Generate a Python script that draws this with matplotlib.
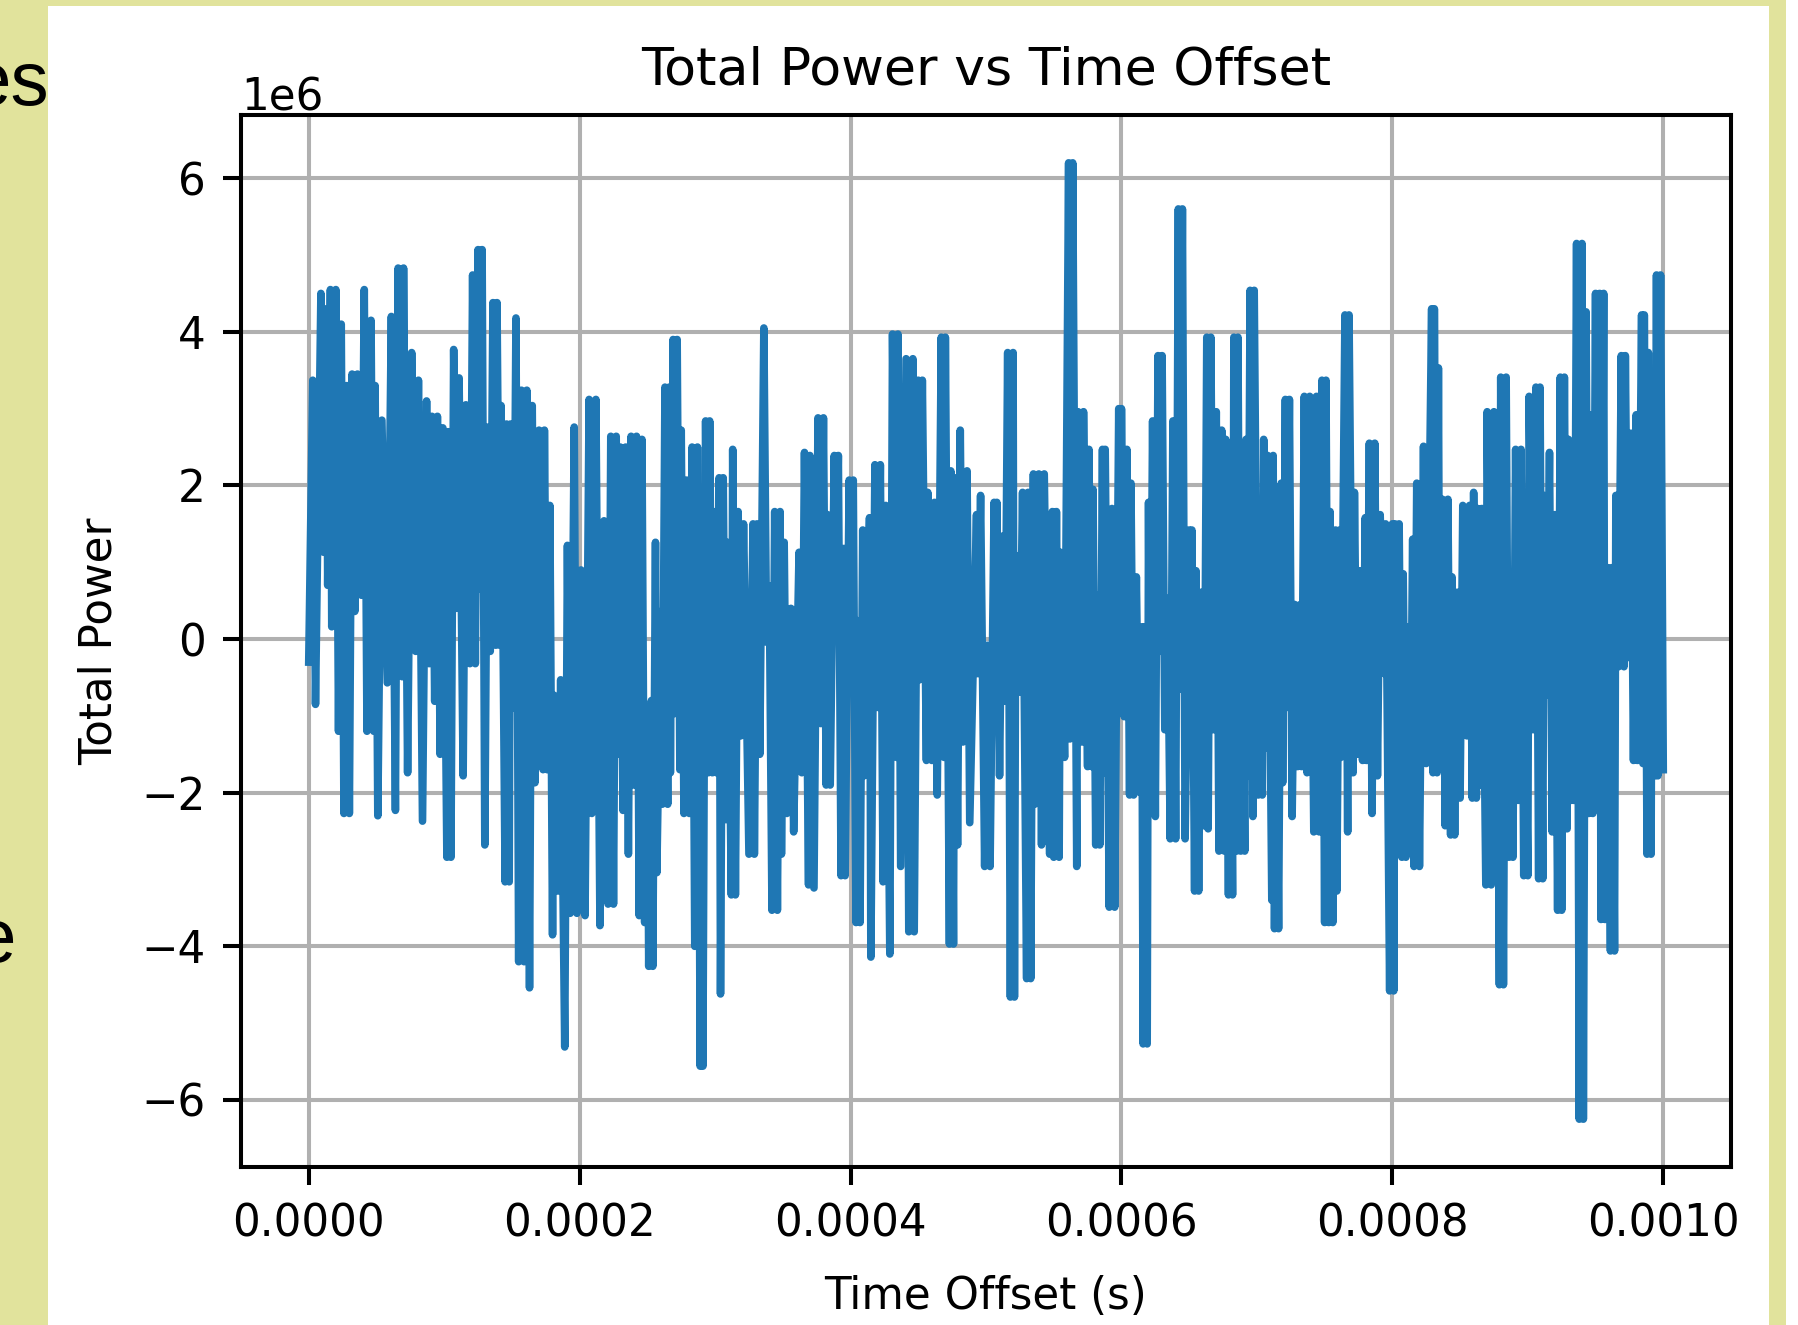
import matplotlib
matplotlib.use("Agg")
import matplotlib.pyplot as plt
from matplotlib.patches import Rectangle
import numpy as np

# time offset in microseconds, total power in units of 1e6
time_us = [
    0, 3, 5, 9, 11, 13, 14, 16, 17, 20, 22, 24, 26, 28, 30, 32, 34, 36, 39, 41,
    43, 46, 48, 49, 51, 54, 58, 61, 64, 66, 69, 70, 73, 76, 79, 81, 84, 87, 89, 91,
    93, 95, 97, 99, 102, 103, 105, 107, 109, 111, 114, 116, 119,
    121, 123, 125, 126, 128, 130, 132, 134, 136, 138, 139, 141, 142, 145, 146, 148, 149, 151,
    153, 155, 157, 159, 161, 163, 165, 167, 170, 173, 174, 176, 178, 180, 181, 184, 186, 189,
    191, 193, 196, 198, 201, 204, 207, 209, 212, 215, 218, 221, 223, 225, 227, 228, 230, 232,
    234, 236, 238, 240, 242, 244,
    246, 248, 250, 251, 253, 254, 256, 257, 260, 261, 263, 265, 266, 267, 269, 270, 272, 274,
    275, 277, 279, 281, 283, 285, 287, 289, 290, 291, 293, 295, 296, 298, 299, 301, 303, 304,
    306, 308, 309, 312, 313, 315, 317, 319, 321, 325, 328, 329, 331, 333, 336, 338, 340, 342,
    344, 346, 348, 349, 351, 353, 356, 358, 362, 364, 366, 369,
    370, 373, 376, 378, 380, 382, 383, 385, 388, 389, 391, 393, 395, 396, 399, 400, 402, 404,
    405, 407, 409, 410, 414, 415, 418, 420, 422, 424, 426, 429, 431, 434, 435, 437, 441, 443,
    446, 447, 450, 451, 453, 456, 457, 460, 462, 464, 467, 469, 470, 473, 474, 476, 477, 479,
    481, 483, 486, 488,
    493, 494, 496, 499, 501, 503, 506, 507, 508, 510, 512, 514, 516, 518, 520, 521, 522, 525,
    527, 530, 531, 533, 535, 536, 539, 541, 543, 547, 549, 550, 552, 554, 555, 558, 561, 562,
    564, 567, 568, 571, 572, 575, 576, 578, 579, 581, 582, 584, 586, 587, 588, 591, 593, 595,
    598, 599, 600, 602, 604, 606, 607, 609, 611, 613, 615, 616, 617, 619, 620, 621,
    623, 625, 627, 628, 630, 632, 634, 636, 638, 640, 642, 643, 645, 647, 650, 651, 652, 654,
    655, 657, 659, 661, 663, 664, 666, 668, 670, 672, 674, 676, 677, 679, 680, 682, 683, 685,
    686, 688, 689, 691, 692, 693, 695, 697, 698, 701, 702, 704, 705, 707, 708, 711, 712, 713,
    714, 716, 718, 719, 721, 722, 724, 726, 728, 730, 732, 733, 735, 737, 739, 742, 744,
    746, 748, 750, 751, 753, 754, 756, 758, 759, 761, 762, 765, 767, 768, 771, 772, 774, 776,
    778, 780, 781, 783, 785, 787, 789, 791, 794, 795, 798, 800, 801, 802, 803, 805, 807, 808,
    810, 812, 813, 815, 816, 818, 820, 823, 825, 829, 830, 831, 833, 834, 835, 837, 839, 841,
    843, 844, 846, 848, 850, 852, 855, 857, 859, 860, 862, 863, 865, 866, 869, 870,
    873, 875, 876, 877, 879, 880, 882, 884, 886, 888, 889, 891, 893, 895, 897, 898, 900, 901,
    904, 906, 908, 909, 911, 912, 914, 916, 918, 920, 922, 924, 925, 927, 929, 930, 932, 933,
    934, 936, 938, 940, 941, 943, 945, 947, 948, 950, 951, 953, 954, 956, 957, 959, 961, 962,
    964, 965, 967, 969, 971, 972, 974, 976, 978, 980, 981, 984, 985, 986, 988, 989, 991, 992,
    994, 995, 996, 998, 1000,
]

power_1e6 = [
    -0.3, 3.37, -0.85, 4.5, 1.13, 4.3, 0.7, 4.55, 0.16, 4.55, -1.2, 4.1, -2.27, 3.3, -2.27, 3.45, 0.36, 3.45, 0.57, 4.55,
    -1.2, 4.15, -1.2, 3.3, -2.3, 2.85, -0.57, 4.2, -2.23, 4.83, -0.49, 4.83, -1.74, 3.73, -0.16, 3.37, -2.37, 3.1, -0.32, 2.9,
    -0.81, 2.9, -1.5, 2.75, -2.84, 2.7, -2.84, 3.77, 0.4, 3.4, -1.78, 3.05, -0.32,
    4.74, -0.32, 5.07, 0.65, 5.07, -2.68, 2.76, -0.16, 4.38, -0.08, 4.38, -0.08, 3.04, -3.16, 2.8, -3.16, 2.8, -0.9,
    4.18, -4.2, 3.24, -4.2, 3.24, -4.54, 3.04, -1.87, 2.72, -1.7, 2.72, -1.7, 1.74, -3.85, -0.73, -3.28, -0.53, -5.31,
    1.22, -3.57, 2.76, -3.57, 0.9, -3.6, 3.12, -2.27, 3.12, -3.73, 1.54, -3.45, 2.64, -3.45, 2.64, -1.5, 2.5, -2.23,
    2.5, -2.8, 2.64, -1.9, 2.64, -3.6,
    2.6, -3.69, -1.0, -4.26, -0.8, -4.26, 1.26, -3.04, 0.36, -2.15, 3.28, -2.15, 3.28, -1.74, 3.9, -0.97, 3.9, -1.7,
    2.72, -2.27, 2.07, -2.27, 2.5, -4.0, 2.5, -5.56, -0.16, -5.56, 2.84, -1.74, 2.84, -1.74, 1.66, -1.74, 2.1, -4.62,
    2.1, -2.35, 1.26, -3.33, 2.47, -3.33, 1.66, -1.26, 1.5, -2.8, 1.5, -2.8, 1.5, -1.5, 4.05, -0.04, 0.69, -3.53,
    1.66, -3.53, 1.66, -2.8, 1.26, -2.27, 0.4, -2.51, 1.13, -1.74, 2.43, -3.2,
    2.39, -3.24, 2.88, -1.1, 2.88, -1.9, 1.62, -1.9, 2.39, 0.28, 2.39, -3.08, 1.18, -3.08, 2.07, -0.16, 2.07, -3.69,
    0.24, -3.69, 1.42, -1.78, 1.58, -4.14, 2.27, -0.89, 2.27, -3.16, 1.74, -4.1, 3.97, -1.54, 3.97, -2.96, 3.65, -3.81,
    3.65, -3.81, 3.37, -0.53, 3.37, -1.58, 1.91, -1.58, 1.78, -2.03, 3.93, -1.54, 3.93, -3.97, 2.19, -3.97, 2.1, -2.68,
    2.72, -1.34, 2.19, -2.39,
    1.62, -0.45, 1.87, -2.96, -0.08, -2.96, 1.78, -0.28, 1.78, -1.78, 1.34, -0.81, 3.73, -4.66, 3.73, -4.66, 1.09, -0.69,
    1.91, -4.42, 1.91, -4.42, 2.15, -2.15, 2.15, -2.68, 2.15, -2.8, 1.66, -2.84, 1.66, -2.84, 1.13, -1.54, 6.2, -1.3,
    6.2, -2.96, 2.96, -1.34, 2.96, -1.66, 2.47, -1.66, 1.95, -2.68, 0.57, -2.68, 2.47, -1.74, 2.47, -3.49, 1.7, -3.49,
    3.0, -0.73, 3.0, -1.01, 2.47, -2.03, 2.03, -2.03, 0.81, -1.99, 0.16, -5.27, 0.16, -5.27, 1.78, -2.1,
    2.84, -2.31, 3.69, -0.16, 3.69, -1.18, 0.53, -2.6, 2.84, -2.6, 5.6, -0.65, 5.6, -2.6, 1.42, -0.85, 1.42, -3.28,
    0.89, -3.28, 0.61, -2.43, 3.93, -2.47, 3.93, -1.18, 2.96, -2.76, 2.72, -2.76, 2.6, -3.33, 1.13, -3.33, 3.93, -2.76,
    3.93, -2.76, 1.82, -2.76, 2.6, -1.78, 4.54, -2.31, 4.54, -2.03, 0.73, -2.03, 2.6, -1.42, 2.39, -3.4, 2.39, -3.77,
    0.28, -3.77, 2.03, -1.87, 3.12, -0.89, 3.12, -2.31, 0.45, -1.66, 0.45, -1.66, 3.16, -1.74, 3.16, -2.51, 3.16,
    -2.51, 3.37, -3.69, 3.37, -3.69, 1.66, -3.69, 1.42, -3.28, 1.42, -1.54, 4.22, -2.51, 4.22, -1.74, 1.91, -1.5, 0.89,
    -1.58, 1.58, -1.58, 2.55, -2.27, 2.55, -1.78, 1.62, -0.45, 1.5, -4.58, 1.5, -4.58, 1.5, -1.54, 1.5, -2.84, 0.85,
    -2.84, 0.16, -2.39, 1.3, -2.96, 2.03, -2.96, 2.51, -1.62, 4.3, -1.74, 4.3, -1.74, 3.53, -1.38, 1.82, -2.43, 1.82,
    -2.55, 0.81, -2.55, 0.61, -2.07, 1.74, -1.26, 1.74, -2.07, 1.91, -2.07, 1.7, -1.9, 1.7, -3.2, 2.96,
    -3.2, 2.96, -1.66, 1.66, -4.5, 3.41, -4.5, 3.41, -2.84, -0.2, -2.84, 2.47, -2.1, 2.47, -3.08, -0.28, -3.08, 3.16,
    -1.18, 3.28, -3.12, 3.28, -3.12, 1.87, -0.73, 2.43, -2.51, 1.62, -3.53, 3.41, -3.53, 3.41, -2.47, 2.6, -2.1, 0.53,
    -2.1, 5.15, -6.25, 5.15, -6.25, 4.26, -2.27, 2.92, -2.27, 4.5, -0.77, 4.5, -3.65, 4.5, -3.65, 0.93, -4.06, 0.93,
    -4.06, 1.87, -0.36, 3.69, -0.36, 3.69, -0.24, 2.68, -1.58, 2.92, -1.58, 4.22, -1.62, 4.22, -2.8, 3.73, -2.8, 2.51,
    -1.78, 4.74, -1.78, 4.74, -1.7,
]

time_s = np.array(time_us) * 1e-6
power = np.array(power_1e6) * 1e6

# screenshot was an upscaled default-style matplotlib figure
k = 3.65
plt.rcParams['font.size'] = 10 * k * 0.86
plt.rcParams['lines.linewidth'] = 1.5 * k
plt.rcParams['axes.linewidth'] = 0.8 * k
plt.rcParams['grid.linewidth'] = 0.8 * k
plt.rcParams['axes.titlepad'] = 6 * k
plt.rcParams['axes.labelpad'] = 4 * k
for a in ['xtick', 'ytick']:
    plt.rcParams[a + '.major.size'] = 3.5 * k
    plt.rcParams[a + '.major.width'] = 0.8 * k
    plt.rcParams[a + '.major.pad'] = 3.5 * k

W, H = 1799, 1325
fig = plt.figure(figsize=(W / 100, H / 100), dpi=100, facecolor='#e1e39c')

# bits of slide text peeking out behind the chart panel
fig.text(49 / W, 1 - 105 / H, "es", ha='right', va='baseline', fontsize=55,
         family='Liberation Sans', color='black', zorder=-2)
fig.text(16 / W, 1 - 962 / H, "e", ha='right', va='baseline', fontsize=55,
         family='Liberation Sans', color='black', zorder=-2)

fig.add_artist(Rectangle((48 / W, 0), (1769 - 48) / W, 1 - 6 / H, transform=fig.transFigure,
                         facecolor='white', edgecolor='none', zorder=-1))
fig.add_artist(Rectangle((1786 / W, 0), 13 / W, 1, transform=fig.transFigure,
                         facecolor='white', edgecolor='none', zorder=-1))

ax = fig.add_axes([241 / W, 1 - 1167 / H, (1731 - 241) / W, (1167 - 115) / H])
ax.plot(time_s, power)
ax.set_title("Total Power vs Time Offset")
ax.set_xlabel("Time Offset (s)", labelpad=21)
ax.set_ylabel("Total Power")
ax.grid(True)

fig.savefig("out.png", dpi=100)
